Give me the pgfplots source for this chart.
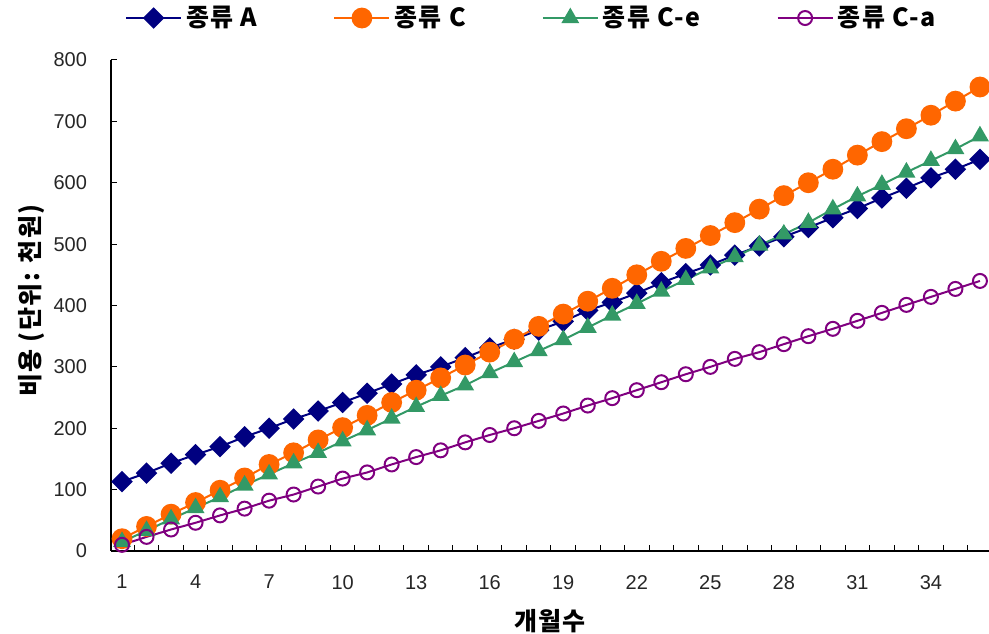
\documentclass[border=0pt]{standalone}
\usepackage{fontspec}
\usepackage{pgfplots}
\pgfplotsset{compat=1.18}
\setmainfont{Liberation Sans}
\newfontfamily\kr{Noto Sans CJK KR}[LetterSpace=6]
\definecolor{sA}{HTML}{000080}
\definecolor{sC}{HTML}{FF6600}
\definecolor{sCe}{HTML}{339966}
\definecolor{sCa}{HTML}{800080}
\begin{document}
\begin{tikzpicture}
\begin{axis}[
    scale only axis,
    width=439pt, height=245.5pt,
    xmin=0.55, xmax=36.37,
    ymin=0, ymax=800,
    axis lines*=left,
    axis line style={line width=0.6pt},
    tick align=inside,
    major tick length=3pt,
    tick style={black, line width=0.5pt},
    xtick={1.5,2.5,...,35.5},
    xticklabels={},
    extra x ticks={1,4,...,34},
    extra x tick style={major tick length=0pt},
    ytick={0,100,...,800},
    tick label style={font=\fontsize{10}{12}\selectfont, text=black!85},
    /pgf/number format/assume math mode=true,
    xticklabel style={yshift=-8.5pt},
    yticklabel style={xshift=-8.5pt},
    xlabel={개월수},
    ylabel={비용 (단위: 천원)},
    every axis x label/.style={at={(axis description cs:0.5,-0.1426)},anchor=center,
        font=\kr\bfseries\fontsize{12.5}{15}\selectfont},
    every axis y label/.style={at={(axis description cs:-0.09,0.51)},rotate=90,anchor=center,
        font=\kr\bfseries\fontsize{12.5}{15}\selectfont},
    legend style={draw=none, fill=none, at={(axis description cs:0.48,1.0855)}, anchor=center,
        legend columns=4, font=\kr\bfseries\fontsize{12.5}{14}\selectfont,
        /tikz/every even column/.append style={column sep=36pt}},
    legend image code/.code={\draw[mark repeat=2,mark phase=2] plot coordinates {(0pt,0pt) (13.75pt,0pt) (27.5pt,0pt)};},
    clip=false,
    every axis plot/.append style={line width=1pt},
]
\addplot[color=sA, mark=square*, mark size=3.3pt, mark options={rotate=45, solid}] coordinates {
(1,113) (2,127) (3,143) (4,157) (5,170) (6,186) (7,200) (8,215) (9,228) (10,242)
(11,257) (12,272) (13,287) (14,300) (15,315) (16,331) (17,345) (18,360) (19,374) (20,392)
(21,405) (22,420) (23,437) (24,452) (25,466) (26,482) (27,497) (28,512) (29,527) (30,543)
(31,558) (32,575) (33,591) (34,608) (35,622) (36,638)};
\addlegendentry{종류 A}
\addplot[color=sC, mark=*, mark size=4.7pt] coordinates {
(1,20) (2,40) (3,60) (4,79) (5,99) (6,119) (7,141) (8,160) (9,181) (10,201)
(11,221) (12,242) (13,262) (14,282) (15,303) (16,324) (17,345) (18,366) (19,386) (20,407)
(21,428) (22,450) (23,472) (24,493) (25,514) (26,535) (27,557) (28,579) (29,600) (30,622)
(31,645) (32,667) (33,688) (34,710) (35,733) (36,756)};
\addlegendentry{종류 C}
\addplot[color=sCe, mark=triangle*, mark size=4.2pt] coordinates {
(1,15) (2,33) (3,52) (4,70) (5,88) (6,107) (7,125) (8,143) (9,160) (10,179)
(11,197) (12,216) (13,235) (14,253) (15,270) (16,290) (17,308) (18,326) (19,344) (20,364)
(21,384) (22,403) (23,423) (24,442) (25,461) (26,479) (27,498) (28,516) (29,535) (30,557)
(31,578) (32,597) (33,617) (34,636) (35,655) (36,676)};
\addlegendentry{종류 C-e}
\addplot[color=sCa, mark=o, mark size=3.5pt, mark options={fill=white}] coordinates {
(1,10) (2,23) (3,35) (4,46) (5,58) (6,69) (7,82) (8,92) (9,105) (10,118)
(11,128) (12,141) (13,153) (14,164) (15,177) (16,189) (17,200) (18,212) (19,224) (20,237)
(21,249) (22,262) (23,275) (24,288) (25,300) (26,313) (27,324) (28,337) (29,350) (30,362)
(31,375) (32,388) (33,401) (34,414) (35,427) (36,440)};
\addlegendentry{종류 C-a}
\end{axis}
\pgfresetboundingbox
\path[use as bounding box] ([xshift=-55.5pt,yshift=-41.5pt]current axis.south west) rectangle ([yshift=30pt]current axis.north east);
\end{tikzpicture}
\end{document}
